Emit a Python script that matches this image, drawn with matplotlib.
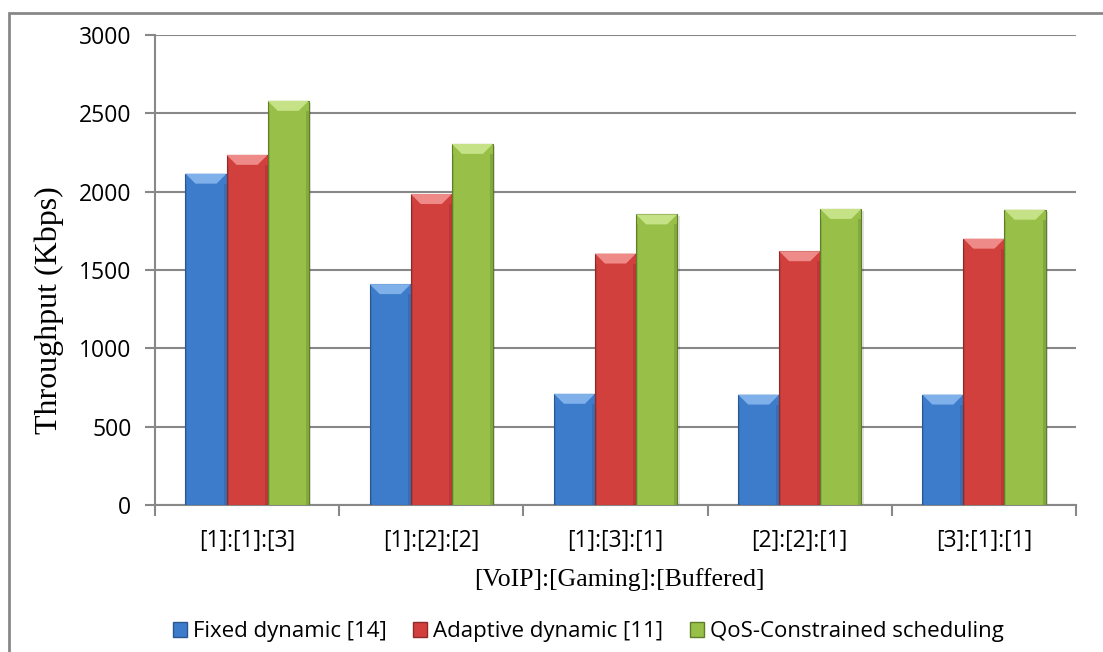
import matplotlib.pyplot as plt
from matplotlib.patches import Patch, Polygon, Rectangle
import numpy as np

# Values
categories = ["[1]:[1]:[3]", "[1]:[2]:[2]", "[1]:[3]:[1]", "[2]:[2]:[1]", "[3]:[1]:[1]"]
fixed_dynamic = [2115, 1410, 710, 705, 705]
adaptive_dynamic = [2235, 1985, 1605, 1620, 1700]
qos_constrained = [2580, 2305, 1855, 1890, 1885]
series_names = ["Fixed dynamic [14]", "Adaptive dynamic [11]", "QoS-Constrained scheduling"]

colors = ["#3d7cca", "#d2403d", "#98c048"]
edges = ["#2a5790", "#8e2b29", "#5f7e2a"]
lights = ["#7fb0ea", "#ee8a87", "#c6e287"]

W, H = 1103, 652
fig = plt.figure(figsize=(W / 100, H / 100), dpi=100)
ax = fig.add_axes([155 / W, 1 - 505 / H, (1076 - 155) / W, (505 - 35) / H])

x = np.arange(len(categories))
bw = 0.223
ymax = 3000
px_x = (len(categories)) / (1076 - 155)   # data units per pixel (x)
px_y = ymax / (505 - 35)                 # data units per pixel (y)
bev = 10

for i, vals in enumerate([fixed_dynamic, adaptive_dynamic, qos_constrained]):
    xs = x + (i - 1) * bw
    ax.bar(xs, vals, bw, color=colors[i], edgecolor=edges[i], linewidth=0.8, zorder=3)
    for xc, v in zip(xs, vals):
        l, r = xc - bw / 2, xc + bw / 2
        # top bevel
        ax.add_patch(Polygon([[l, v], [r, v], [r - bev * px_x, v - bev * px_y],
                              [l + bev * px_x, v - bev * px_y]],
                             closed=True, facecolor=lights[i], edgecolor="none", zorder=4))
        # darker side strips
        ax.add_patch(Rectangle((r - 3 * px_x, 0), 3 * px_x, v - bev * px_y,
                               facecolor=edges[i], alpha=0.35, edgecolor="none", zorder=4))
        ax.add_patch(Rectangle((l, 0), 2 * px_x, v - bev * px_y,
                               facecolor=edges[i], alpha=0.25, edgecolor="none", zorder=4))
        # shadow
        ax.add_patch(Rectangle((r, 0), 2.5 * px_x, v - 2 * px_y,
                               facecolor="#000000", alpha=0.12, edgecolor="none", zorder=2))

ax.set_xlim(-0.5, len(categories) - 0.5)
ax.set_ylim(0, ymax)
ax.set_yticks(range(0, 3001, 500))
ax.yaxis.grid(True, color="#888888", linewidth=1.5, zorder=0)
ax.set_axisbelow(True)

ax.set_xticks(x)
ax.set_xticklabels(categories, fontsize=16.5, family="Open Sans")
ax.set_xticks(np.arange(-0.5, len(categories), 1), minor=True)
ax.tick_params(axis="x", which="major", length=0, pad=17)
ax.tick_params(axis="x", which="minor", length=8, color="#888888", width=1.5)
ax.tick_params(axis="y", length=7, color="#888888", width=1.5, pad=10, labelsize=16.5)
for lab in ax.get_yticklabels():
    lab.set_family("Open Sans")

for s in ["top", "right"]:
    ax.spines[s].set_visible(False)
for s in ["left", "bottom"]:
    ax.spines[s].set_color("#888888")
    ax.spines[s].set_linewidth(1.5)

ax.set_ylabel("Throughput (Kbps)", family="Liberation Serif", fontsize=23, va="center")
ax.yaxis.set_label_coords((49 - 155) / 921, (505 - 310) / 470)
ax.set_xlabel("[VoIP]:[Gaming]:[Buffered]", family="Liberation Serif", fontsize=18.5, va="center")
ax.xaxis.set_label_coords((619 - 155) / 921, (505 - 580) / 470)

handles = [Patch(facecolor=colors[i], edgecolor=edges[i], label=series_names[i]) for i in range(3)]
fig.legend(handles=handles, loc="center", bbox_to_anchor=(588 / W, 1 - 632 / H), ncol=3,
           frameon=False, prop={"family": "Open Sans", "size": 16},
           handlelength=0.65, handleheight=0.65, handletextpad=0.25, columnspacing=1.2,
           borderpad=0)

# outer chart frame
fig.patches.append(Rectangle((9 / W, -0.1), 1.2, 1 - 13 / H + 0.1, transform=fig.transFigure,
                             fill=False, edgecolor="#888888", linewidth=2))

fig.savefig("out.png", dpi=100)
